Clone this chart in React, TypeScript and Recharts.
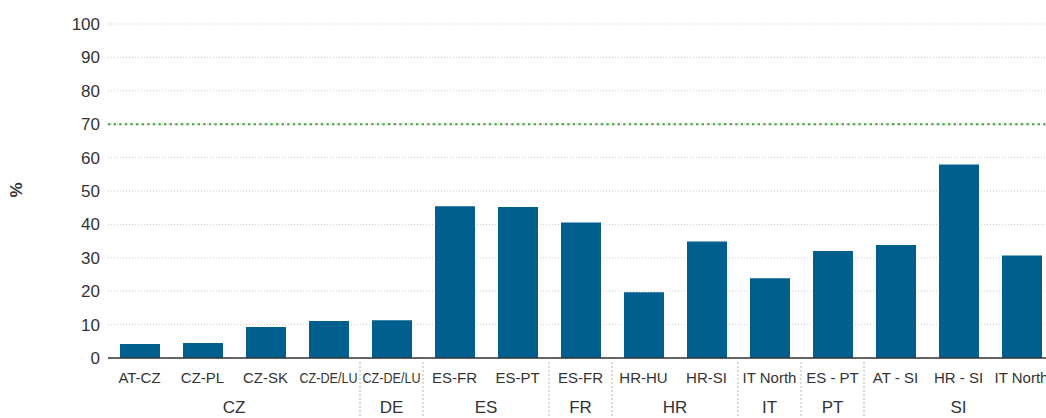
import { BarChart, Bar, XAxis, YAxis, CartesianGrid, ReferenceLine } from 'recharts'

const categories = [
  'AT-CZ', 'CZ-PL', 'CZ-SK', 'CZ-DE/LU', 'CZ-DE/LU', 'ES-FR', 'ES-PT', 'ES-FR',
  'HR-HU', 'HR-SI', 'IT North', 'ES - PT', 'AT - SI', 'HR - SI', 'IT North',
]
const groups = ['CZ', 'CZ', 'CZ', 'CZ', 'DE', 'ES', 'ES', 'FR', 'HR', 'HR', 'IT', 'PT', 'SI', 'SI', 'SI']
const values = [4.2, 4.5, 9.3, 11.1, 11.3, 45.4, 45.2, 40.6, 19.7, 34.9, 23.9, 32.0, 33.8, 57.9, 30.7]
const yTicks = [0, 10, 20, 30, 40, 50, 60, 70, 80, 90, 100]
const target = 70

const CHART_W = 1060
const CHART_H = 418
const Y_AXIS_W = 108
const MARGIN_R = 7
const BAND = (CHART_W - Y_AXIS_W - MARGIN_R) / categories.length

const data = categories.map((c, i) => ({ name: c, group: groups[i], value: values[i] }))

const FONT = '"Liberation Sans", Arial, sans-serif'
const TEXT = '#333'

function GroupTick(props: any) {
  const { x, y, index } = props
  const label = categories[index]
  const g = groups[index]
  const first = index === 0 || groups[index - 1] !== g
  let count = 0
  for (let j = index; j < groups.length && groups[j] === g; j++) count++
  return (
    <g>
      <text
        x={x}
        y={y + 17}
        textAnchor="middle"
        fill={TEXT}
        fontSize={15}
        fontFamily={FONT}
        {...(label.includes('/') ? { textLength: 58, lengthAdjust: 'spacingAndGlyphs' } : {})}
      >
        {label}
      </text>
      {first && index > 0 && (
        <line x1={x - BAND / 2} x2={x - BAND / 2} y1={y - 4} y2={y + 60} stroke="#b4b4b4" strokeDasharray="2 2" />
      )}
      {first && (
        <text
          x={x + ((count - 1) * BAND) / 2}
          y={y + 47}
          textAnchor="middle"
          fill={TEXT}
          fontSize={17}
          fontFamily={FONT}
        >
          {g}
        </text>
      )}
    </g>
  )
}

export default function App() {
  return (
    <div style={{ position: 'fixed', left: 0, top: 0, width: 1046, height: 418, overflow: 'hidden', background: '#fff' }}>
      <BarChart
        width={CHART_W}
        height={CHART_H}
        data={data}
        margin={{ top: 24, right: MARGIN_R, left: 0, bottom: 0 }}
        barSize={40}
      >
        <CartesianGrid vertical={false} stroke="#c8c8c8" strokeDasharray="1 2" />
        <XAxis
          dataKey="name"
          interval={0}
          height={60}
          tickLine={false}
          axisLine={{ stroke: '#333', strokeWidth: 1.5 }}
          tick={<GroupTick />}
        />
        <YAxis
          width={Y_AXIS_W}
          domain={[0, 100]}
          ticks={yTicks}
          axisLine={false}
          tickLine={false}
          tickMargin={2}
          tick={{ fill: TEXT, fontSize: 17, fontFamily: FONT }}
          label={() => (
            <text
              x={22}
              y={190}
              transform="rotate(-90 22 190)"
              textAnchor="middle"
              fill={TEXT}
              fontSize={17}
              fontWeight="bold"
              fontFamily={FONT}
            >
              %
            </text>
          )}
        />
        <ReferenceLine y={target} stroke="#3ea33e" strokeWidth={2} strokeDasharray="2.4 3.2" />
        <Bar dataKey="value" fill="#005f8e" isAnimationActive={false} />
      </BarChart>
    </div>
  )
}
